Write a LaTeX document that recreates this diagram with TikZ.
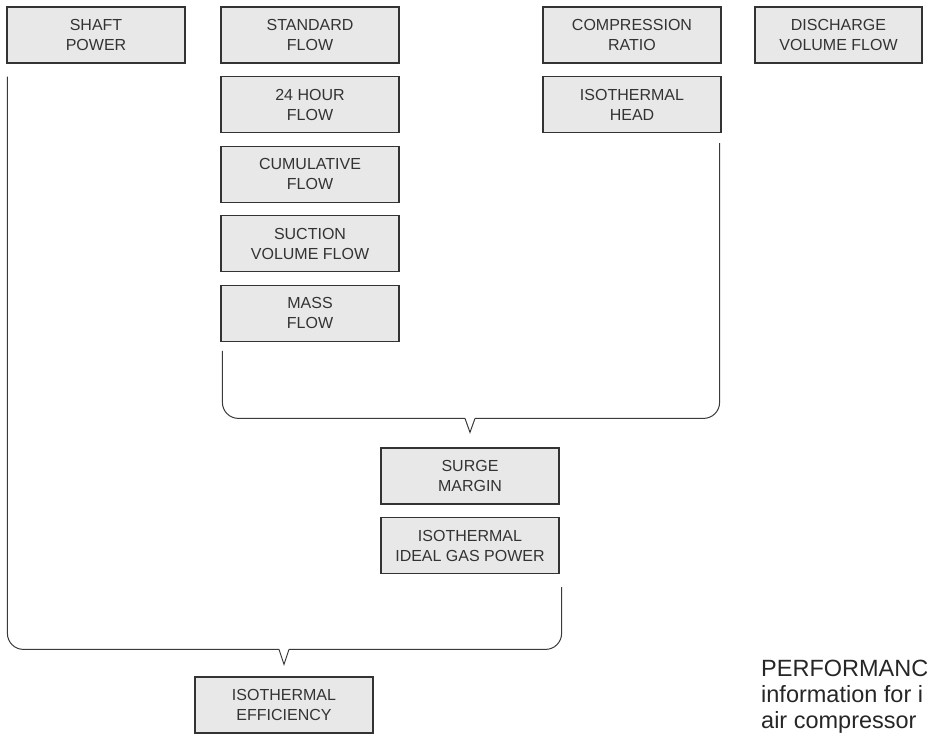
\documentclass[tikz,border=0pt]{standalone}
\usepackage{fontspec}
\setmainfont{Liberation Sans}
\usepackage{tikz}
\usetikzlibrary{positioning, calc}
\usepackage{xcolor}
\definecolor{boxfill}{HTML}{E8E8E8}
\definecolor{boxline}{HTML}{333333}
\definecolor{braceline}{HTML}{3A3A3A}

\begin{document}
\begin{tikzpicture}[x=1pt, y=1pt,
    qty/.style={draw=boxline, line width=1.2pt, fill=boxfill, text=boxline, align=center,
      minimum width=178pt, minimum height=56pt, inner sep=0pt,
      font=\fontsize{16}{20}\selectfont},
    brace/.style={draw=braceline, line width=1pt},
    node distance=12.4pt]
  \useasboundingbox (0,0) rectangle (927,-735);
  \node[qty] (shaft) at (96,-35) {SHAFT\\POWER};
  \node[qty] (std) at (310,-35) {STANDARD\\FLOW};
  \node[qty, below=of std] (day) {24 HOUR\\FLOW};
  \node[qty, below=of day] (cum) {CUMULATIVE\\FLOW};
  \node[qty, below=of cum] (suct) {SUCTION\\VOLUME FLOW};
  \node[qty, below=of suct] (mass) {MASS\\FLOW};
  \node[qty] (ratio) at (632,-35) {COMPRESSION\\RATIO};
  \node[qty, below=of ratio] (head) {ISOTHERMAL\\HEAD};
  \node[qty, minimum width=167pt] (disch) at (838.5,-35) {DISCHARGE\\VOLUME FLOW};
  \node[qty] (surge) at (470,-476) {SURGE\\MARGIN};
  \node[qty, below=of surge] (power) {ISOTHERMAL\\IDEAL GAS POWER};
  \node[qty] (eff) at (284,-705) {ISOTHERMAL\\EFFICIENCY};
  \node[anchor=north west, inner sep=0pt, align=left, text=black!85,
    font=\fontsize{23.5}{26}\selectfont] (note) at (761,-660)
    {PERFORMANC\\information for i\\air compressor};

  \coordinate (upL) at ([xshift=2pt,yshift=-9pt]mass.south west);
  \coordinate (upR) at ([xshift=-2pt,yshift=-10pt]head.south east);
  \coordinate (upTip) at ([yshift=15pt]surge.north);
  \coordinate (upA) at ($(upTip)+(-5,14)$);
  \coordinate (upB) at ($(upTip)+(5,14)$);
  \draw[brace, rounded corners=16pt] (upL) |- (upA);
  \draw[brace] (upA) -- (upTip) -- (upB);
  \draw[brace, rounded corners=16pt] (upB) -| (upR);

  \coordinate (loL) at ([xshift=1pt,yshift=-13pt]shaft.south west);
  \coordinate (loR) at ([xshift=2pt,yshift=-13pt]power.south east);
  \coordinate (loTip) at ([yshift=12pt]eff.north);
  \coordinate (loA) at ($(loTip)+(-5,15)$);
  \coordinate (loB) at ($(loTip)+(5,15)$);
  \draw[brace, rounded corners=16pt] (loL) |- (loA);
  \draw[brace] (loA) -- (loTip) -- (loB);
  \draw[brace, rounded corners=16pt] (loB) -| (loR);
\end{tikzpicture}
\end{document}
